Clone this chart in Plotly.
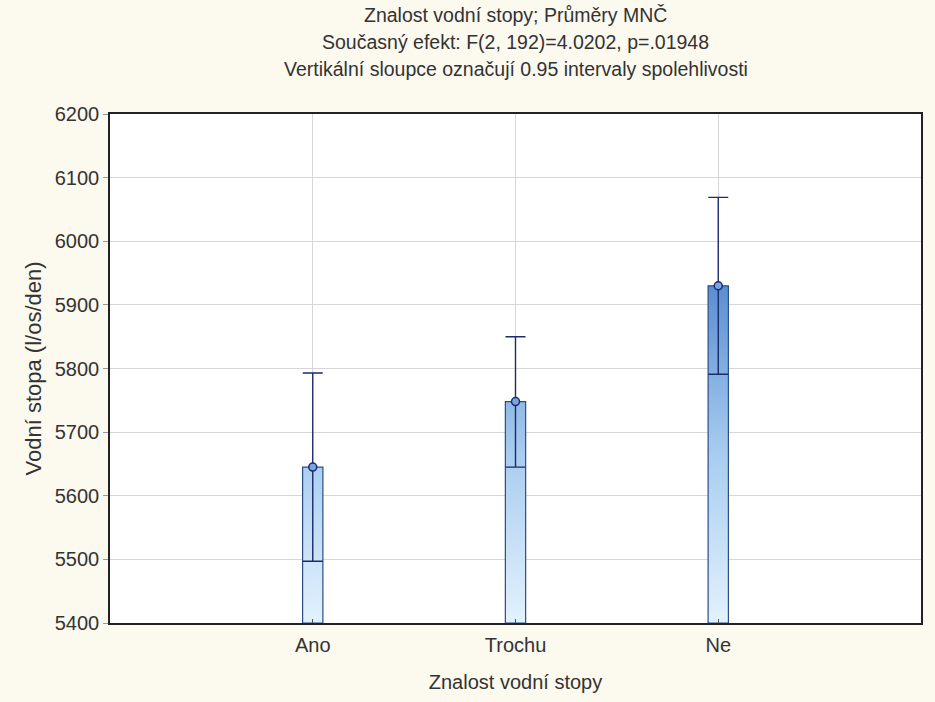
import plotly.graph_objects as go

categories = ["Ano", "Trochu", "Ne"]
means = [5645, 5748, 5930]
ci_lower = [5497, 5645, 5791]
ci_upper = [5793, 5850, 6069]
y_ticks = [5400, 5500, 5600, 5700, 5800, 5900, 6000, 6100, 6200]

title_lines = [
    "Znalost vodní stopy; Průměry MNČ",
    "Současný efekt: F(2, 192)=4.0202, p=.01948",
    "Vertikální sloupce označují 0.95 intervaly spolehlivosti",
]

FONT = "Liberation Sans, Arial, sans-serif"
TXT = "#333333"
NAVY = "#1c2a6e"
BASE = y_ticks[0]
HALF_W = 0.05

fig = go.Figure()

positions = list(range(1, len(categories) + 1))

# gradient-filled bars from axis base to the mean
for pos, m in zip(positions, means):
    fig.add_trace(go.Scatter(
        x=[pos - HALF_W, pos + HALF_W, pos + HALF_W, pos - HALF_W, pos - HALF_W],
        y=[BASE, BASE, m, m, BASE],
        mode="lines",
        fill="toself",
        fillgradient=dict(
            type="vertical",
            colorscale=[[0, "#e3f2fd"], [0.5, "#a9cdf0"], [1, "#5b8fd2"]],
            start=BASE,
            stop=5930,
        ),
        line=dict(color="#2b4d86", width=1.2),
        hoverinfo="skip",
        showlegend=False,
    ))

# means with confidence intervals
fig.add_trace(go.Scatter(
    x=positions,
    y=means,
    mode="markers",
    marker=dict(symbol="circle", size=8, color="#7aa6e0",
                line=dict(color=NAVY, width=1.5)),
    error_y=dict(
        type="data",
        symmetric=False,
        array=[u - m for u, m in zip(ci_upper, means)],
        arrayminus=[m - l for m, l in zip(means, ci_lower)],
        color=NAVY,
        thickness=1.4,
        width=10,
    ),
    showlegend=False,
))

annotations = []
for i, t in enumerate(title_lines):
    annotations.append(dict(
        text=t, xref="paper", yref="paper",
        x=0.5, y=1.0, yanchor="middle", xanchor="center",
        yshift=(625 - 15 - 27 * i) - 511,
        showarrow=False,
        font=dict(family=FONT, size=19.5, color=TXT),
    ))

fig.update_layout(
    width=935, height=702,
    margin=dict(l=110, r=13, t=114, b=77),
    paper_bgcolor="#fcf9ef",
    plot_bgcolor="#ffffff",
    font=dict(family=FONT, size=20, color=TXT),
    annotations=annotations,
    xaxis=dict(
        range=[0, 4],
        tickvals=positions,
        ticktext=categories,
        showgrid=True, gridcolor="#d6d6d6", gridwidth=1,
        zeroline=False,
        showline=True, linecolor="#222222", linewidth=1.5, mirror=True,
        ticks="inside", ticklen=4, tickcolor="#555555",
        ticklabelstandoff=3,
        tickfont=dict(family=FONT, size=20, color=TXT),
        title=dict(text="Znalost vodní stopy", standoff=20,
                   font=dict(family=FONT, size=20, color=TXT)),
    ),
    yaxis=dict(
        range=[y_ticks[0], y_ticks[-1]],
        tickvals=y_ticks,
        ticktext=[str(v) for v in y_ticks],
        showgrid=True, gridcolor="#d6d6d6", gridwidth=1,
        zeroline=False,
        showline=True, linecolor="#222222", linewidth=1.5, mirror=True,
        ticks="outside", ticklen=5, tickcolor="#999999",
        tickfont=dict(family=FONT, size=20, color=TXT),
        title=dict(text="Vodní stopa (l/os/den)", standoff=7,
                   font=dict(family=FONT, size=22, color=TXT)),
    ),
)

fig.write_html("out.html", config={"displayModeBar": False},
               post_script="document.body.style.margin='0px';")
